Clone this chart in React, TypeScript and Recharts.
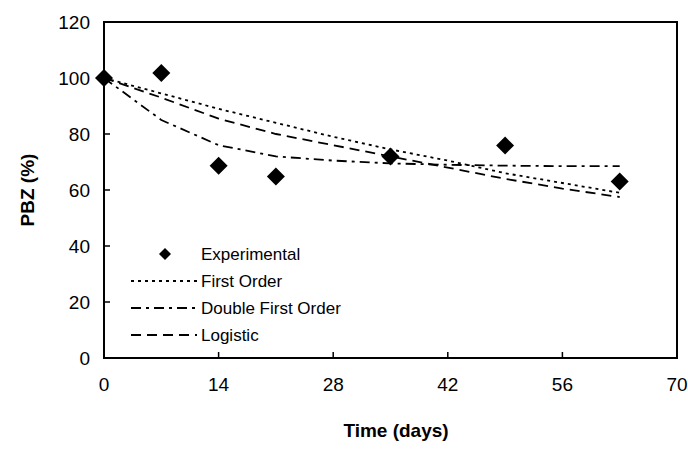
import { ComposedChart, Line, Scatter, XAxis, YAxis, ReferenceArea } from 'recharts'

const days = [0, 7, 14, 21, 28, 35, 42, 49, 56, 63]
const firstOrder = [100, 94.5, 89, 84, 79, 74.5, 70.5, 66, 62.5, 59]
const doubleFirstOrder = [100, 85, 76, 72, 70.5, 69.5, 69, 68.7, 68.5, 68.5]
const logistic = [100, 93, 85.5, 80, 76, 72, 68, 64, 60.5, 57.5]

const expDays = [0, 7, 14, 21, 35, 49, 63]
const expValues = [100, 101.8, 68.7, 64.8, 72, 75.9, 63]

const xTicks = [0, 14, 28, 42, 56, 70]
const yTicks = [0, 20, 40, 60, 80, 100, 120]

const firstData = days.map((d, i) => ({ t: d, v: firstOrder[i] }))
const doubleData = days.map((d, i) => ({ t: d, v: doubleFirstOrder[i] }))
const logData = days.map((d, i) => ({ t: d, v: logistic[i] }))
const expData = expDays.map((d, i) => ({ t: d, v: expValues[i] }))

const FONT = 'Liberation Sans, Arial, sans-serif'

const Diamond = (props: any) => {
  const { cx, cy } = props
  const r = 9
  return <polygon points={`${cx},${cy - r} ${cx + r},${cy} ${cx},${cy + r} ${cx - r},${cy}`} fill="#000" />
}

const XTick = (props: any) => {
  const { x, y, payload } = props
  return (
    <g>
      <line x1={x} x2={x} y1={y} y2={y - 6} stroke="#000" strokeWidth={1.5} />
      <text x={x} y={y + 33} textAnchor="middle" fontSize={19} fontFamily={FONT} fill="#000">
        {payload.value}
      </text>
    </g>
  )
}

const YTick = (props: any) => {
  const { x, y, payload } = props
  return (
    <g>
      <line x1={x} x2={x + 6} y1={y} y2={y} stroke="#000" strokeWidth={1.5} />
      <text x={x - 14} y={y + 7} textAnchor="end" fontSize={19} fontFamily={FONT} fill="#000">
        {payload.value}
      </text>
    </g>
  )
}

const legendRows = [
  { name: 'Experimental', kind: 'marker', dash: '' },
  { name: 'First Order', kind: 'line', dash: '3 4' },
  { name: 'Double First Order', kind: 'line', dash: '10 5 3 5' },
  { name: 'Logistic', kind: 'line', dash: '10 6' },
]

const LegendBox = () => (
  <svg width={240} height={112} style={{ position: 'absolute', left: 121, top: 240 }}>
    {legendRows.map((r, i) => {
      const y = 14 + i * 27
      return (
        <g key={r.name}>
          {r.kind === 'marker' ? (
            <polygon points={`44,${y - 6} 50,${y} 44,${y + 6} 38,${y}`} fill="#000" />
          ) : (
            <line x1={10} x2={76} y1={y} y2={y} stroke="#000" strokeWidth={2} strokeDasharray={r.dash} />
          )}
          <text x={80} y={y + 6} fontSize={17} fontFamily={FONT} fill="#000">
            {r.name}
          </text>
        </g>
      )
    })}
  </svg>
)

export default function App() {
  return (
    <div style={{ position: 'absolute', left: 0, top: 0, width: 688, height: 449, background: '#fff' }}>
      <ComposedChart width={688} height={449} margin={{ top: 22, right: 11, bottom: 0, left: 0 }}>
        <XAxis
          dataKey="t"
          type="number"
          domain={[0, 70]}
          ticks={xTicks}
          height={91}
          tickSize={0}
          tickMargin={0}
          tickLine={false}
          tick={<XTick />}
          axisLine={{ stroke: '#000', strokeWidth: 2 }}
          allowDuplicatedCategory={false}
        />
        <YAxis
          dataKey="v"
          type="number"
          domain={[0, 120]}
          ticks={yTicks}
          width={104}
          tickSize={0}
          tickMargin={0}
          tickLine={false}
          tick={<YTick />}
          axisLine={{ stroke: '#000', strokeWidth: 2 }}
        />
        <ReferenceArea x1={0} x2={70} y1={0} y2={120} fill="none" stroke="#000" strokeWidth={2} />
        <Line data={firstData} dataKey="v" stroke="#000" strokeWidth={1.8} strokeDasharray="3 4" dot={false} isAnimationActive={false} />
        <Line data={doubleData} dataKey="v" stroke="#000" strokeWidth={1.8} strokeDasharray="10 5 3 5" dot={false} isAnimationActive={false} />
        <Line data={logData} dataKey="v" stroke="#000" strokeWidth={1.8} strokeDasharray="10 6" dot={false} isAnimationActive={false} />
        <Scatter data={expData} dataKey="v" shape={<Diamond />} isAnimationActive={false} />
      </ComposedChart>
      <LegendBox />
      <div style={{ position: 'absolute', left: 0, width: 688, paddingLeft: 104, boxSizing: 'border-box', top: 420, textAlign: 'center', fontFamily: FONT, fontWeight: 'bold', fontSize: 19, lineHeight: '22px' }}>
        Time (days)
      </div>
      <div style={{ position: 'absolute', left: 28, top: 190, transform: 'translate(-50%, -50%) rotate(-90deg)', whiteSpace: 'nowrap', fontFamily: FONT, fontWeight: 'bold', fontSize: 19 }}>
        PBZ (%)
      </div>
    </div>
  )
}
